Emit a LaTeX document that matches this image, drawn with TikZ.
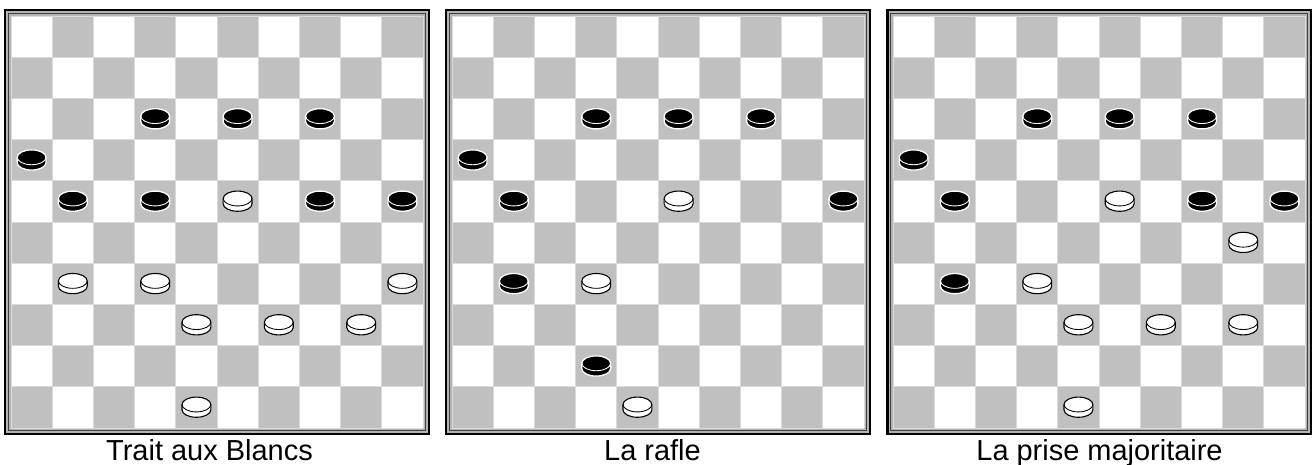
\documentclass[tikz,border=0pt]{standalone}
\usepackage{fontspec}
\setmainfont{Liberation Sans}
\definecolor{sqgray}{HTML}{C0C0C0}
\definecolor{gridgray}{HTML}{DADADA}
\definecolor{rimgray}{HTML}{B4B4B4}
\tikzset{
  dsq/.style    ={fill=sqgray},
  gridln/.style ={draw=gridgray, line width=0.6pt},
  rimout/.style ={fill=black},
  rimmid/.style ={fill=rimgray},
  rimin/.style  ={draw=black!75, line width=0.6pt},
  bpc/.style    ={draw=white, line width=0.9pt, fill=black},
  wpc/.style    ={draw=black, line width=0.75pt, fill=white},
  lbl/.style    ={font=\fontsize{20}{24}\selectfont, anchor=base, inner sep=0pt},
}
% one piece: #1 = column, #2 = row from the top, #3 = style, #4 = colour of the rim line
\newcommand{\piece}[4]{%
  \begin{scope}[shift={(#1+0.5,9.57-#2)}]
    \draw[#3] (-0.35,0) -- (-0.35,-0.13)
      arc[start angle=180, end angle=360, x radius=0.35, y radius=0.18]
      -- (0.35,0)
      arc[start angle=0, end angle=180, x radius=0.35, y radius=0.18] -- cycle;
    \draw[#4, line width=0.6pt] (-0.35,0)
      arc[start angle=180, end angle=360, x radius=0.35, y radius=0.18];
  \end{scope}}
% empty board with its frame, squares 1 x 1
\newcommand{\board}{%
  \fill[rimout] (-0.16,-0.16) rectangle (10.16,10.16);
  \fill[rimmid] (-0.11,-0.11) rectangle (10.11,10.11);
  \draw[rimin] (-0.06,-0.06) rectangle (10.06,10.06);
  \fill[white] (0,0) rectangle (10,10);
  \foreach \c in {0,...,9}
    \foreach \r in {0,...,9}{
      \pgfmathtruncatemacro{\odd}{mod(\c+\r,2)}
      \ifnum\odd=1 \fill[dsq] (\c,9-\r) rectangle ++(1,1); \fi
    }
  \draw[gridln] (0,0) grid (10,10);}

\begin{document}
\begin{tikzpicture}
  \useasboundingbox (0,0) rectangle (31.917,11.286);

  % Trait aux Blancs
  \begin{scope}[shift={(0.267,0.898)}]
    \board
    \foreach \c/\r in {3/2,5/2,7/2,0/3,1/4,3/4,7/4,9/4} \piece{\c}{\r}{bpc}{white};
    \foreach \c/\r in {5/4,1/6,3/6,9/6,4/7,6/7,8/7,4/9} \piece{\c}{\r}{wpc}{black};
  \end{scope}

  % La rafle
  \begin{scope}[shift={(10.971,0.898)}]
    \board
    \foreach \c/\r in {3/2,5/2,7/2,0/3,1/4,9/4,1/6,3/8} \piece{\c}{\r}{bpc}{white};
    \foreach \c/\r in {5/4,3/6,4/9} \piece{\c}{\r}{wpc}{black};
  \end{scope}

  % La prise majoritaire
  \begin{scope}[shift={(21.675,0.898)}]
    \board
    \foreach \c/\r in {3/2,5/2,7/2,0/3,1/4,7/4,9/4,1/6} \piece{\c}{\r}{bpc}{white};
    \foreach \c/\r in {5/4,8/5,3/6,4/7,6/7,8/7,4/9} \piece{\c}{\r}{wpc}{black};
  \end{scope}

  \node[lbl] (cap1) at (5.085,0.121) {Trait aux Blancs};
  \node[lbl] (cap2) at (15.837,0.121) {La rafle};
  \node[lbl] (cap3) at (26.687,0.121) {La prise majoritaire};
\end{tikzpicture}
\end{document}
